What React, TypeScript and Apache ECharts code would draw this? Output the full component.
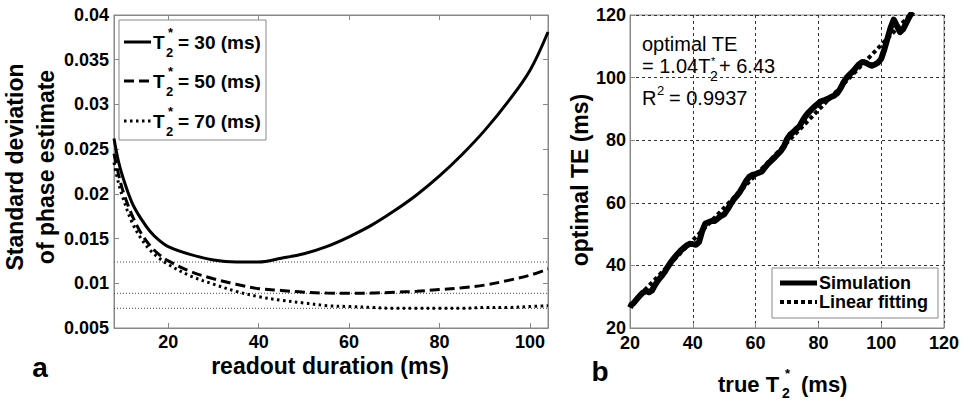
import React, { useEffect, useRef } from "react";
import * as echarts from "echarts";

// ---- Panel a: standard deviation of phase estimate vs readout duration ----
const readoutX = [8, 9, 10, 12, 14, 16, 18, 20, 25, 30, 35, 40, 45, 50, 55, 60, 65, 70, 75, 80, 85, 90, 95, 100, 104];
const sd30 = [0.0262, 0.0236, 0.0218, 0.019, 0.0172, 0.0158, 0.0148, 0.0141, 0.0132, 0.0126, 0.01238, 0.01238, 0.0128, 0.0133, 0.0141, 0.0152, 0.0165, 0.0181, 0.0199, 0.022, 0.0244, 0.0271, 0.0302, 0.0338, 0.0381];
const sd50 = [0.0245, 0.0222, 0.0203, 0.0176, 0.0156, 0.0142, 0.0132, 0.0125, 0.0113, 0.0105, 0.0099, 0.0094, 0.0092, 0.009, 0.0089, 0.00888, 0.0089, 0.009, 0.0091, 0.0093, 0.0095, 0.0098, 0.0103, 0.0109, 0.0116];
const sd70 = [0.0235, 0.0212, 0.0195, 0.0168, 0.015, 0.0137, 0.0128, 0.0121, 0.0108, 0.0099, 0.0091, 0.0085, 0.0081, 0.0078, 0.0075, 0.0074, 0.0073, 0.0072, 0.0072, 0.0072, 0.0072, 0.0073, 0.0073, 0.0074, 0.0075];
const refLevels = [0.01238, 0.00888, 0.0072];
const readoutRange = [8, 104];
const leftXTicks = [20, 40, 60, 80, 100];
const legendA = ["= 30 (ms)", "= 50 (ms)", "= 70 (ms)"];

// ---- Panel b: optimal TE vs true T2* ----
const trueT2 = [20, 20.5, 21, 22, 23, 24, 25, 26, 27, 28, 29, 30, 31, 32, 33, 34, 35, 36, 37, 38, 39, 40, 41, 42, 43, 44, 45, 46, 47, 48, 49, 50, 51, 52, 53, 54, 55, 56, 57, 58, 59, 60, 61, 62, 63, 64, 65, 66, 67, 68, 69, 70, 71, 72, 73, 74, 75, 76, 77, 78, 79, 80, 81, 82, 83, 84, 85, 86, 87, 88, 89, 90, 91, 92, 93, 94, 95, 96, 97, 98, 99, 100, 101, 102, 103, 104, 105, 106, 107, 108, 109, 110];
const optimalTE = [26.5, 27.5, 27.8, 29, 30.2, 31.2, 31.8, 31.4, 32, 33.8, 35.3, 36.5, 37.8, 39.5, 41, 42.3, 43.5, 44.6, 45.5, 46.3, 46.9, 46.8, 46.6, 47.5, 51, 53.4, 53.8, 54.2, 54.2, 55, 55.8, 56.3, 57.8, 59.5, 61, 62.2, 63.5, 65.2, 67, 68.3, 68.9, 69.2, 69.6, 70, 71.3, 72.5, 73.5, 74.4, 75.5, 76.5, 78, 80.3, 81.8, 82.6, 83.6, 84.5, 86.3, 87.8, 89, 90, 91, 91.8, 92.5, 92.8, 93.2, 93.8, 94.2, 95, 96.5, 98.5, 100, 101, 102, 103.2, 104.3, 105, 104.8, 104.2, 103.8, 104.2, 104.8, 106, 109, 112.5, 116, 118.5, 116.5, 114.5, 115.5, 117.5, 119.5, 121];
const fitX = [20, 110];
const fitY = [27.23, 120.83];
const legendB = ["Simulation", "Linear fitting"];

const FONT = "'Liberation Sans', Arial, sans-serif";
const AX = "#888";

function zip(xs: number[], ys: number[]) {
  return xs.map((x, i) => [x, ys[i]]);
}

export default function App() {
  const ref = useRef<HTMLDivElement>(null);
  useEffect(() => {
    if (!ref.current) return;
    const chart = echarts.init(ref.current, null, { renderer: "svg" });
    const tickLabel = { color: "#000", fontFamily: FONT, fontWeight: "bold" as const, fontSize: 18 };
    const t = (x: number, y: number, text: string, size: number, opts: any = {}) => ({
      type: "text",
      x,
      y,
      silent: true,
      rotation: opts.rotation || 0,
      style: {
        text,
        fill: "#000",
        fontFamily: FONT,
        fontWeight: opts.weight || "bold",
        fontSize: size,
        textAlign: opts.align || "left",
        textVerticalAlign: "middle",
        lineHeight: opts.lineHeight,
      },
    });
    const legendADash: any[] = [null, [10, 5], [2.5, 3.5]];
    const legendAY = [42, 81, 121];
    const graphics: any[] = [
      { type: "rect", shape: { x: 119, y: 20, width: 147, height: 120 }, style: { fill: "#fff", stroke: AX, lineWidth: 1 }, z: 10 },
    ];
    legendAY.forEach((y, i) => {
      graphics.push({
        type: "line",
        z: 11,
        shape: { x1: 124, y1: y, x2: 151, y2: y },
        style: { stroke: "#000", lineWidth: 3, lineDash: legendADash[i] || undefined },
      });
      graphics.push({ ...t(153, y, "T", 19), z: 11 });
      graphics.push({ ...t(166, y + 10, "2", 13), z: 11 });
      graphics.push({ ...t(168, y - 10, "*", 13), z: 11 });
      graphics.push({ ...t(178, y, legendA[i], 19), z: 11 });
    });
    graphics.push(t(30, 167, "Standard deviation\nof phase estimate", 23, { align: "center", rotation: Math.PI / 2, lineHeight: 31 }));
    graphics.push(t(330, 366, "readout duration (ms)", 23, { align: "center" }));
    graphics.push(t(40, 367, "a", 28, { align: "center" }));
    // panel b annotation
    graphics.push(t(642, 44, "optimal TE", 20, { weight: "normal" }));
    graphics.push(t(642, 66, "= 1.04T", 20, { weight: "normal" }));
    graphics.push(t(710, 76, "2", 14, { weight: "normal" }));
    graphics.push(t(711, 61, "*", 11, { weight: "normal" }));
    graphics.push(t(719, 66, "+ 6.43", 20, { weight: "normal" }));
    graphics.push(t(642, 98, "R", 20, { weight: "normal" }));
    graphics.push(t(657, 90, "2", 13, { weight: "normal" }));
    graphics.push(t(669, 98, "= 0.9937", 20, { weight: "normal" }));
    // panel b legend
    graphics.push({ type: "rect", z: 10, shape: { x: 772, y: 268, width: 166, height: 50 }, style: { fill: "#fff", stroke: AX, lineWidth: 1 } });
    graphics.push({ type: "line", z: 11, shape: { x1: 780, y1: 283, x2: 817, y2: 283 }, style: { stroke: "#000", lineWidth: 5 } });
    graphics.push({ type: "line", z: 11, shape: { x1: 780, y1: 302, x2: 817, y2: 302 }, style: { stroke: "#000", lineWidth: 4, lineDash: [4, 3] } });
    graphics.push({ ...t(819, 283, legendB[0], 18), z: 11 });
    graphics.push({ ...t(819, 302, legendB[1], 18), z: 11 });
    graphics.push(t(580, 180, "optimal TE (ms)", 23, { align: "center", rotation: Math.PI / 2 }));
    graphics.push(t(718, 384, "true T", 22));
    graphics.push(t(782, 393, "2", 14));
    graphics.push(t(785, 373, "*", 13));
    graphics.push(t(801, 384, "(ms)", 22));
    graphics.push(t(600, 371, "b", 28, { align: "center" }));

    const axLine = { show: true, lineStyle: { color: AX, width: 1 } };
    const tickIn = (custom?: number[]) => ({
      show: true,
      inside: true,
      length: 5,
      lineStyle: { color: AX },
      ...(custom ? { customValues: custom } : {}),
    });

    const refSeries = refLevels.map((v) => ({
      type: "line",
      xAxisIndex: 0,
      yAxisIndex: 0,
      data: readoutRange.map((x) => [x, v]),
      showSymbol: false,
      symbol: "none",
      silent: true,
      z: 1,
      lineStyle: { color: "#444", width: 1, type: [1, 2] },
    }));

    chart.setOption({
      animation: false,
      backgroundColor: "#fff",
      textStyle: { fontFamily: FONT },
      grid: [
        { left: 114, top: 15, width: 434, height: 313, show: true, borderColor: AX, borderWidth: 1, backgroundColor: "transparent" },
        { left: 630, top: 15, width: 314, height: 313, show: true, borderColor: AX, borderWidth: 1, backgroundColor: "transparent" },
      ],
      xAxis: [
        {
          type: "value", gridIndex: 0, min: 8, max: 104,
          axisLine: axLine, axisTick: tickIn(leftXTicks),
          axisLabel: { ...tickLabel, margin: 5, customValues: leftXTicks },
          splitLine: { show: false },
        },
        {
          type: "value", gridIndex: 0, min: 8, max: 104, position: "top",
          axisLine: axLine, axisTick: tickIn(leftXTicks),
          axisLabel: { show: false, customValues: leftXTicks },
          splitLine: { show: false },
        },
        {
          type: "value", gridIndex: 1, min: 20, max: 120, interval: 20,
          axisLine: axLine, axisTick: tickIn(),
          axisLabel: { ...tickLabel, margin: 6 },
          splitLine: { show: true, lineStyle: { color: "#333", type: [3, 3], width: 1 } },
        },
      ],
      yAxis: [
        {
          type: "value", gridIndex: 0, min: 0.005, max: 0.04, interval: 0.005,
          axisLine: axLine, axisTick: tickIn(),
          axisLabel: { ...tickLabel, margin: 5, formatter: (v: number) => String(+v.toFixed(3)) },
          splitLine: { show: false },
        },
        {
          type: "value", gridIndex: 0, min: 0.005, max: 0.04, interval: 0.005, position: "right",
          axisLine: axLine, axisTick: tickIn(),
          axisLabel: { show: false },
          splitLine: { show: false },
        },
        {
          type: "value", gridIndex: 1, min: 20, max: 120, interval: 20,
          axisLine: axLine, axisTick: tickIn(),
          axisLabel: { ...tickLabel, margin: 4 },
          splitLine: { show: true, lineStyle: { color: "#333", type: [3, 3], width: 1 } },
        },
      ],
      series: [
        ...refSeries,
        {
          type: "line", xAxisIndex: 0, yAxisIndex: 0, data: zip(readoutX, sd30), smooth: 0.35,
          showSymbol: false, symbol: "none", silent: true, z: 3,
          lineStyle: { color: "#000", width: 3 },
        },
        {
          type: "line", xAxisIndex: 0, yAxisIndex: 0, data: zip(readoutX, sd50), smooth: 0.35,
          showSymbol: false, symbol: "none", silent: true, z: 3,
          lineStyle: { color: "#000", width: 3, type: [10, 5] },
        },
        {
          type: "line", xAxisIndex: 0, yAxisIndex: 0, data: zip(readoutX, sd70), smooth: 0.35,
          showSymbol: false, symbol: "none", silent: true, z: 3,
          lineStyle: { color: "#000", width: 3, type: [2.5, 3.5] },
        },
        {
          type: "line", xAxisIndex: 2, yAxisIndex: 2, data: zip(trueT2, optimalTE),
          showSymbol: false, symbol: "none", silent: true, z: 3,
          lineStyle: { color: "#000", width: 6, join: "round" },
        },
        {
          type: "line", xAxisIndex: 2, yAxisIndex: 2, data: zip(fitX, fitY),
          showSymbol: false, symbol: "none", silent: true, z: 4,
          lineStyle: { color: "#000", width: 4, type: [4, 3] },
        },
      ],
      graphic: graphics,
    });
    return () => chart.dispose();
  }, []);
  return <div ref={ref} style={{ position: "absolute", left: 0, top: 0, width: 965, height: 403 }} />;
}
